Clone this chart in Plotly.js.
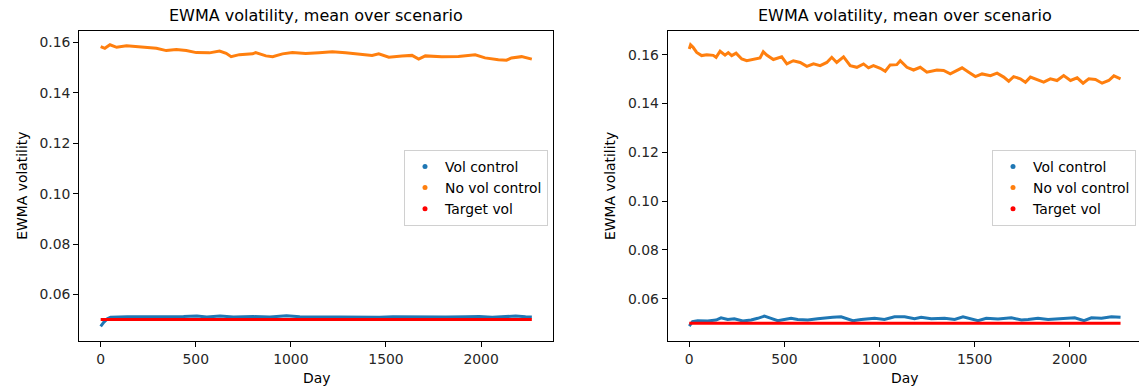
<!DOCTYPE html>
<html><head><meta charset="utf-8">
<script src="https://cdn.plot.ly/plotly-3.0.1.min.js"></script>
<style>html,body{margin:0;padding:0;background:#fff}#chart{width:1139px;height:388px}</style>
</head><body><div id="chart"></div>
<script>
const titleText = 'EWMA volatility, mean over scenario';
const xTitle = 'Day';
const yTitle = 'EWMA volatility';
const seriesNames = ['Vol control', 'No vol control', 'Target vol'];
const xTickVals = [0, 500, 1000, 1500, 2000];
const yTickVals = [0.06, 0.08, 0.10, 0.12, 0.14, 0.16];

// ---- Left panel ----
const leftVolDays = [0, 17, 35, 52, 140, 244, 349, 436, 506, 558, 628, 698, 803, 890, 977, 1047, 1152, 1256, 1361, 1466, 1536, 1641, 1710, 1815, 1920, 1990, 2059, 2147, 2182, 2234, 2267];
const leftVolValues = [0.0473, 0.0490, 0.0503, 0.0509, 0.0511, 0.0510, 0.0511, 0.0512, 0.0514, 0.0510, 0.0514, 0.0510, 0.0512, 0.0510, 0.0515, 0.0511, 0.0510, 0.0511, 0.0510, 0.0509, 0.0511, 0.0510, 0.0512, 0.0510, 0.0511, 0.0512, 0.0509, 0.0511, 0.0514, 0.0511, 0.0510];
const leftNoVolDays = [0, 22, 49, 84, 136, 170, 223, 293, 345, 398, 450, 503, 572, 625, 660, 686, 729, 799, 815, 869, 904, 956, 1008, 1078, 1148, 1218, 1288, 1357, 1427, 1462, 1515, 1584, 1637, 1672, 1707, 1794, 1881, 1969, 2021, 2091, 2134, 2160, 2213, 2267];
const leftNoVolValues = [0.1584, 0.1577, 0.1591, 0.1581, 0.1587, 0.1585, 0.1579, 0.1577, 0.1568, 0.1572, 0.1568, 0.1560, 0.1559, 0.1566, 0.1557, 0.1544, 0.1552, 0.1555, 0.1560, 0.1547, 0.1544, 0.1555, 0.1560, 0.1556, 0.1559, 0.1563, 0.1559, 0.1555, 0.1549, 0.1555, 0.1542, 0.1547, 0.1549, 0.1534, 0.1547, 0.1544, 0.1545, 0.1551, 0.1539, 0.1532, 0.1530, 0.1539, 0.1544, 0.1534];
const leftTargetDays = [0, 2267];
const leftTargetValues = [0.05, 0.05];

// ---- Right panel ----
const rightVolDays = [0, 17, 44, 97, 141, 167, 202, 237, 281, 325, 360, 395, 430, 465, 500, 535, 570, 623, 675, 728, 754, 798, 860, 904, 974, 1026, 1079, 1132, 1184, 1219, 1272, 1342, 1395, 1439, 1482, 1518, 1561, 1623, 1693, 1746, 1781, 1833, 1886, 1956, 2026, 2075, 2114, 2167, 2219, 2267];
const rightVolValues = [0.0488, 0.0506, 0.0510, 0.0509, 0.0513, 0.0522, 0.0515, 0.0518, 0.0509, 0.0513, 0.0520, 0.0529, 0.0520, 0.0510, 0.0515, 0.0520, 0.0515, 0.0513, 0.0518, 0.0520, 0.0524, 0.0526, 0.0510, 0.0515, 0.0520, 0.0515, 0.0526, 0.0526, 0.0518, 0.0524, 0.0518, 0.0520, 0.0515, 0.0526, 0.0518, 0.0510, 0.0520, 0.0517, 0.0522, 0.0513, 0.0515, 0.0520, 0.0515, 0.0520, 0.0522, 0.0510, 0.0522, 0.0520, 0.0526, 0.0524];
const rightNoVolDays = [0, 7, 20, 39, 65, 92, 126, 141, 162, 188, 205, 223, 246, 276, 302, 337, 372, 389, 407, 442, 486, 513, 547, 583, 618, 653, 688, 723, 749, 775, 811, 846, 881, 916, 942, 968, 1004, 1030, 1056, 1091, 1109, 1144, 1179, 1214, 1249, 1302, 1337, 1372, 1398, 1434, 1469, 1504, 1539, 1583, 1618, 1653, 1679, 1705, 1740, 1767, 1793, 1828, 1863, 1898, 1933, 1968, 2004, 2039, 2070, 2100, 2135, 2170, 2205, 2232, 2253, 2267];
const rightNoVolValues = [0.1623, 0.1640, 0.1630, 0.1609, 0.1596, 0.1599, 0.1597, 0.1589, 0.1614, 0.1598, 0.1608, 0.1596, 0.1606, 0.1582, 0.1575, 0.1582, 0.1586, 0.1612, 0.1598, 0.1580, 0.1591, 0.1562, 0.1575, 0.1568, 0.1552, 0.1562, 0.1555, 0.1568, 0.1589, 0.1568, 0.1591, 0.1555, 0.1548, 0.1562, 0.1546, 0.1555, 0.1544, 0.1532, 0.1558, 0.1559, 0.1575, 0.1548, 0.1537, 0.1548, 0.1528, 0.1537, 0.1535, 0.1521, 0.1532, 0.1546, 0.1528, 0.1510, 0.1521, 0.1514, 0.1524, 0.1508, 0.1491, 0.1510, 0.1501, 0.1487, 0.1508, 0.1498, 0.1487, 0.1501, 0.1494, 0.1514, 0.1494, 0.1505, 0.1483, 0.1501, 0.1498, 0.1483, 0.1494, 0.1513, 0.1505, 0.1501];
const rightTargetDays = [0, 2267];
const rightTargetValues = [0.05, 0.05];

const colors = ['#1f77b4', '#ff7f0e', '#ff0000'];
const FONT = 'DejaVu Sans, Verdana, sans-serif';
const W = 1139, H = 388;

function lineTrace(x, y, color, xa, ya, width) {
  return {x: x, y: y, mode: 'lines', line: {color: color, width: width}, xaxis: xa, yaxis: ya, showlegend: false, hoverinfo: 'skip'};
}
function legendTrace(name, color, xa, ya, legend) {
  return {x: [null], y: [null], mode: 'markers', name: name, marker: {color: color, size: 5}, xaxis: xa, yaxis: ya, legend: legend, showlegend: true};
}

const data = [
  lineTrace(leftVolDays, leftVolValues, colors[0], 'x', 'y', 3),
  lineTrace(leftNoVolDays, leftNoVolValues, colors[1], 'x', 'y', 3),
  lineTrace(leftTargetDays, leftTargetValues, colors[2], 'x', 'y', 3),
  lineTrace(rightVolDays, rightVolValues, colors[0], 'x2', 'y2', 3),
  lineTrace(rightNoVolDays, rightNoVolValues, colors[1], 'x2', 'y2', 3),
  lineTrace(rightTargetDays, rightTargetValues, colors[2], 'x2', 'y2', 3),
  legendTrace(seriesNames[0], colors[0], 'x', 'y', 'legend'),
  legendTrace(seriesNames[1], colors[1], 'x', 'y', 'legend'),
  legendTrace(seriesNames[2], colors[2], 'x', 'y', 'legend'),
  legendTrace(seriesNames[0], colors[0], 'x2', 'y2', 'legend2'),
  legendTrace(seriesNames[1], colors[1], 'x2', 'y2', 'legend2'),
  legendTrace(seriesNames[2], colors[2], 'x2', 'y2', 'legend2')
];

const tickFont = {family: FONT, size: 13.9, color: '#262626'};
function xAxis(domain, range, anchor) {
  return {domain: domain, range: range, anchor: anchor, tickvals: xTickVals, ticktext: xTickVals.map(String),
    showline: true, mirror: true, linecolor: '#000', linewidth: 1, ticks: 'outside', ticklen: 5, tickcolor: '#000',
    showgrid: false, zeroline: false, tickfont: tickFont, fixedrange: true};
}
function yAxis(domain, range, anchor) {
  return {domain: domain, range: range, anchor: anchor, tickvals: yTickVals, tickformat: '.2f',
    showline: true, mirror: true, linecolor: '#000', linewidth: 1, ticks: 'outside', ticklen: 5, tickcolor: '#000',
    showgrid: false, zeroline: false, tickfont: tickFont, fixedrange: true};
}
const yDom = [1 - 341 / H, 1 - 30.7 / H];

function ann(text, px, py, size, angle) {
  return {text: text, x: px / W, y: 1 - py / H, xref: 'paper', yref: 'paper', showarrow: false,
    xanchor: 'center', yanchor: 'middle', textangle: angle || 0, font: {family: FONT, size: size, color: '#000'}};
}
const legendCommon = {bgcolor: 'rgba(255,255,255,0.8)', bordercolor: '#d0d0d0', borderwidth: 1,
  font: {family: FONT, size: 13.9, color: '#000'}, xanchor: 'right', yanchor: 'top', itemclick: false, itemdoubleclick: false};

const layout = {
  width: W, height: H, margin: {l: 0, r: 0, t: 0, b: 0},
  paper_bgcolor: '#fff', plot_bgcolor: '#fff',
  xaxis: xAxis([79.1 / W, 553.4 / W], [-113.4, 2380.4], 'y'),
  yaxis: yAxis(yDom, [0.0415, 0.1647], 'x'),
  xaxis2: xAxis([667.7 / W, 1], [-113.4, 2364], 'y2'),
  yaxis2: yAxis(yDom, [0.0427, 0.1698], 'x2'),
  legend: Object.assign({x: 548 / W, y: 1 - 150 / H}, legendCommon),
  legend2: Object.assign({x: 1136 / W, y: 1 - 150 / H}, legendCommon),
  annotations: [
    ann(titleText, 316, 16, 16), ann(titleText, 904.5, 16, 16),
    ann(xTitle, 316, 378, 13.9), ann(xTitle, 904.5, 378, 13.9),
    ann(yTitle, 21.7, 186, 13.9, -90), ann(yTitle, 610, 186, 13.9, -90)
  ]
};
Plotly.newPlot('chart', data, layout, {displayModeBar: false, staticPlot: true});
</script>
</body></html>
